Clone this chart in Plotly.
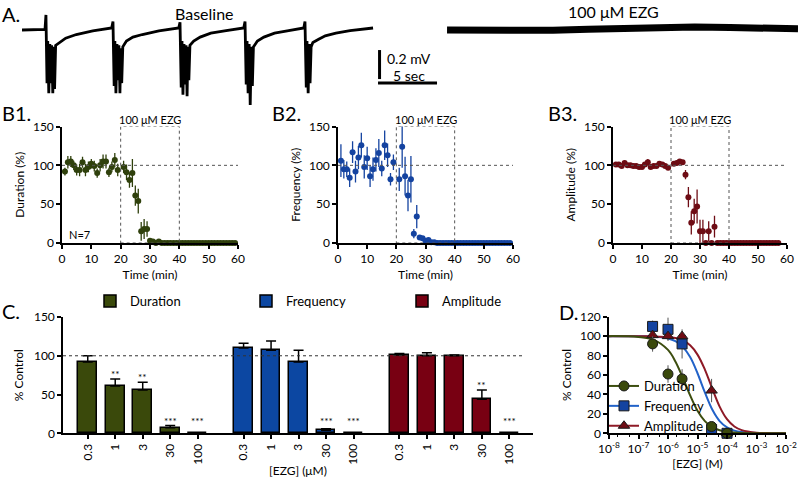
import plotly.graph_objects as go

# ------------------------------------------------------------------ DATA
# Panel A: field-potential traces (time in s, voltage in mV)
baseline_t = [0.00, 0.9, 1.95,
              2.03, 2.08, 2.12, 2.18, 2.27, 2.36, 2.42, 2.51, 2.61, 2.69, 2.76, 2.85, 3.15, 3.7, 4.6, 6.0, 7.6,
              7.71, 7.76, 7.81, 7.87, 7.96, 8.05, 8.12, 8.21, 8.30, 8.37, 8.45, 8.54, 8.85, 9.4, 10.2, 11.6, 13.28,
              13.39, 13.44, 13.49, 13.56, 13.64, 13.73, 13.81, 13.90, 13.99, 14.06, 14.14, 14.23, 14.55, 15.1, 16.0, 17.3, 18.79,
              18.90, 18.95, 19.00, 19.07, 19.16, 19.25, 19.34, 19.43, 19.52, 19.61, 19.95, 20.5, 21.4, 22.6, 23.88,
              23.98, 24.03, 24.09, 24.15, 24.25, 24.34, 24.41, 24.50, 24.65, 25.1, 25.7, 26.6, 27.8, 29.75]
baseline_mv = [-0.014, -0.010, -0.010,
               0.090, -0.18, -0.38, -0.09, -0.45, -0.11, -0.38, -0.12, -0.45, -0.13, -0.42, -0.12, -0.10, -0.07, -0.045, -0.02, 0.0,
               0.045, -0.18, -0.40, -0.09, -0.45, -0.11, -0.36, -0.12, -0.45, -0.14, -0.38, -0.13, -0.09, -0.063, -0.045, -0.02, 0.0,
               0.040, -0.22, -0.41, -0.09, -0.46, -0.11, -0.39, -0.12, -0.47, -0.13, -0.36, -0.12, -0.09, -0.063, -0.036, -0.018, 0.0,
               0.045, -0.20, -0.39, -0.09, -0.45, -0.11, -0.53, -0.13, -0.40, -0.13, -0.09, -0.063, -0.036, -0.018, 0.0,
               0.045, -0.22, -0.41, -0.09, -0.45, -0.11, -0.38, -0.13, -0.10, -0.08, -0.054, -0.036, -0.018, 0.0]
ezg_t = [36.02, 39, 42, 45, 48, 51, 54, 57, 60, 63, 65.76]
ezg_mv = [-0.014, -0.018, -0.020, -0.016, -0.008, 0.0, 0.005, 0.007, 0.004, -0.002, -0.006]

# Panels B1-B3: time courses (min), mean and SEM (% of baseline)
time_min = [1, 2, 3, 4, 5, 6, 7, 8, 9, 10, 11, 12, 13, 14, 15, 16, 17, 18, 19,
            21, 22, 23, 24, 25, 26, 27, 28, 29, 30, 31, 32, 33,
            34, 35, 36, 37, 38, 39, 40, 41, 42, 43, 44, 45, 46, 47, 48, 49, 50,
            51, 52, 53, 54, 55, 56, 57, 58, 59]
duration_tc = [92, 104, 105, 100, 94, 94, 104, 94, 98, 102, 99, 90, 100, 105, 105, 91, 98, 107, 94,
               98, 91, 81, 90, 61, 54, 15, 18, 18, 3, 2, 0, 2,
               0, 0, 0, 0, 0, 0, 0, 0, 0, 0, 0, 0, 0, 0, 0, 0, 0, 0, 0, 0, 0, 0, 0, 0, 0, 0]
duration_tc_sem = [5, 8, 7, 6, 7, 8, 7, 8, 7, 6, 7, 6, 8, 9, 9, 6, 7, 9, 8,
                   8, 10, 10, 18, 13, 16, 12, 13, 10, 2, 1, 0, 1,
                   0, 0, 0, 0, 0, 0, 0, 0, 0, 0, 0, 0, 0, 0, 0, 0, 0, 0, 0, 0, 0, 0, 0, 0, 0, 0]
frequency_tc = [106, 95, 95, 84, 117, 92, 110, 126, 98, 109, 86, 95, 107, 116, 96, 126, 113, 82, 104,
                82, 124, 86, 61, 82, 12, 34, 7, 6, 3, 4, 1, 1,
                0, 0, 0, 0, 0, 0, 0, 0, 0, 0, 0, 0, 0, 0, 0, 0, 0, 0, 0, 0, 0, 0, 0, 0, 0, 0]
frequency_tc_sem = [21, 12, 10, 12, 14, 14, 15, 16, 15, 15, 14, 15, 15, 18, 10, 19, 15, 8, 10,
                    15, 27, 25, 20, 30, 6, 15, 3, 3, 2, 2, 1, 1,
                    0, 0, 0, 0, 0, 0, 0, 0, 0, 0, 0, 0, 0, 0, 0, 0, 0, 0, 0, 0, 0, 0, 0, 0, 0, 0]
amplitude_tc = [101, 101, 99, 103, 100, 100, 99, 99, 98, 98, 101, 104, 98, 99, 99, 102, 101, 99, 97,
                102, 103, 105, 104, 88, 59, 26, 41, 47, 15, 15, 0, 15,
                0, 21, 0, 0, 0, 0, 0, 0, 0, 0, 0, 0, 0, 0, 0, 0, 0, 0, 0, 0, 0, 0, 0, 0]
amplitude_tc_sem = [2, 2, 2, 3, 2, 2, 2, 2, 2, 2, 2, 4, 2, 2, 2, 2, 2, 2, 2,
                    3, 3, 3, 3, 6, 13, 15, 16, 22, 15, 15, 0, 13,
                    0, 14, 0, 0, 0, 0, 0, 0, 0, 0, 0, 0, 0, 0, 0, 0, 0, 0, 0, 0, 0, 0, 0, 0]

# Panel C / D: concentration response
conc_labels = ["0.3", "1", "3", "30", "100"]
conc_molar = [3e-7, 1e-6, 3e-6, 3e-5, 1e-4]
duration_mean = [92, 61, 56, 7, 0]
duration_sem = [8, 9, 10, 3, 0]
frequency_mean = [110, 107, 92, 4, 0]
frequency_sem = [6, 12, 15, 2, 0]
amplitude_mean = [101, 100, 100, 44, 0]
amplitude_sem = [2, 4, 1, 12, 0]
duration_sig = ["", "**", "**", "***", "***"]
frequency_sig = ["", "", "", "***", "***"]
amplitude_sig = ["", "", "", "**", "***"]

# Panel D: fitted concentration-response curves (log10 M, % control)
fit_log_conc = [-8, -7, -6.5, -6, -5.75, -5.5, -5.25, -5, -4.75, -4.5, -4.25, -4, -3.75, -3.5, -3, -2.5, -2]
duration_fit = [100.0, 99.2, 96.4, 85.8, 74.0, 57.4, 39.0, 23.2, 12.5, 6.3, 3.1, 1.5, 0.7, 0.3, 0.1, 0.0, 0.0]
frequency_fit = [100.0, 99.9, 99.5, 97.6, 94.8, 89.0, 78.4, 61.8, 42.0, 24.4, 12.6, 6.1, 2.8, 1.3, 0.26, 0.05, 0.0]
amplitude_fit = [100.0, 100.0, 99.8, 99.1, 98.0, 95.5, 90.5, 81.0, 65.6, 46.0, 27.5, 14.5, 7.0, 3.3, 0.7, 0.13, 0.0]

# ------------------------------------------------------------------ STYLE
FONT = "Lato, 'Open Sans', sans-serif"
W, H = 800, 478
GREEN, BLUE, RED = "#2f400c", "#1443a0", "#6e0c14"
BAR_GREEN, BAR_BLUE, BAR_RED = "#3a490b", "#0c47a2", "#780012"
FIT_GREEN, FIT_BLUE, FIT_RED = "#3d4e10", "#2262c8", "#8e1a26"
GROUP_STEP = 5.67


def fx(p):
    return p / W


def fy(p):
    return 1 - p / H


def gapped(seq):
    out = []
    for v in seq:
        out += [v, None]
    return out[:-1]


fig = go.Figure()

# ---------------- Panel A
fig.add_trace(go.Scatter(x=baseline_t, y=baseline_mv, mode="lines",
                         line=dict(color="black", width=2.8), xaxis="x", yaxis="y",
                         showlegend=False, hoverinfo="skip"))
fig.add_trace(go.Scatter(x=ezg_t, y=ezg_mv, mode="lines",
                         line=dict(color="black", width=7), xaxis="x", yaxis="y",
                         showlegend=False, hoverinfo="skip"))

# ---------------- Panels B
b_sets = [
    (duration_tc, duration_tc_sem, GREEN, "x2", "y2"),
    (frequency_tc, frequency_tc_sem, BLUE, "x3", "y3"),
    (amplitude_tc, amplitude_tc_sem, RED, "x4", "y4"),
]
for vals, err, col, xa, ya in b_sets:
    fig.add_trace(go.Scatter(x=time_min, y=vals, mode="markers",
                             marker=dict(color=col, size=6),
                             error_y=dict(type="data", array=err, color=col, thickness=1.3, width=0),
                             cliponaxis=False, showlegend=False, xaxis=xa, yaxis=ya))

# ---------------- Panel C
c_sets = [
    ("Duration", duration_mean, duration_sem, BAR_GREEN, duration_sig),
    ("Frequency", frequency_mean, frequency_sem, BAR_BLUE, frequency_sig),
    ("Amplitude", amplitude_mean, amplitude_sem, BAR_RED, amplitude_sig),
]
c_tickvals, c_ticktext = [], []
star_annots = []
for g, (name, means, sem, col, sig) in enumerate(c_sets):
    xs = [g * GROUP_STEP + i for i in range(len(conc_labels))]
    c_tickvals += xs
    c_ticktext += conc_labels
    fig.add_trace(go.Bar(x=xs, y=means, width=0.68, name=name,
                         marker=dict(color=col, line=dict(color="black", width=1.5)),
                         error_y=dict(type="data", symmetric=False, array=sem,
                                      arrayminus=[0] * len(sem), color="black",
                                      thickness=1.5, width=5),
                         xaxis="x5", yaxis="y5", legend="legend"))
    for xv, m, s, lab in zip(xs, means, sem, sig):
        if lab:
            star_annots.append(dict(x=xv, y=max(m + s, 10), xref="x5", yref="y5",
                                    text=lab, showarrow=False, yanchor="middle", yshift=5,
                                    font=dict(size=10, color="black")))

# ---------------- Panel D
d_sets = [
    ("Frequency", frequency_mean, frequency_sem, frequency_fit, BLUE, FIT_BLUE, "square", 2),
    ("Amplitude", amplitude_mean, amplitude_sem, amplitude_fit, RED, FIT_RED, "triangle-up", 3),
    ("Duration", duration_mean, duration_sem, duration_fit, BAR_GREEN, FIT_GREEN, "circle", 1),
]
fit_x = [10 ** v for v in fit_log_conc]
for name, means, sem, fit, mcol, lcol, sym, rank in d_sets:
    fig.add_trace(go.Scatter(x=fit_x, y=fit, mode="lines", line=dict(color=lcol, width=2, shape="spline"),
                             xaxis="x6", yaxis="y6", showlegend=False, hoverinfo="skip"))
for name, means, sem, fit, mcol, lcol, sym, rank in d_sets:
    fig.add_trace(go.Scatter(x=gapped(conc_molar), y=gapped(means), mode="lines+markers",
                             name=name, legendrank=rank, legend="legend2",
                             line=dict(color=lcol, width=2),
                             marker=dict(color=mcol, symbol=sym, size=10,
                                         line=dict(color="#1a1a1a", width=1)),
                             error_y=dict(type="data", array=gapped(sem), color="#555555",
                                          thickness=1, width=0),
                             cliponaxis=False, xaxis="x6", yaxis="y6"))

# ---------------- Layout
ax = dict(showline=True, linecolor="black", linewidth=1.5, ticks="outside", ticklen=4,
          tickwidth=1.5, tickcolor="black", showgrid=False, zeroline=False, automargin=False,
          tickfont=dict(size=12, color="black"), title_font=dict(size=12, color="black"))

b_y_dom = [fy(243), fy(126.5)]
b_x_doms = [[fx(62), fx(238)], [fx(338), fx(513)], [fx(613), fx(787)]]
b_titles = ["Duration (%)", "Frequency (%)", "Amplitude (%)"]

layout = dict(
    template="none",
    width=W, height=H, margin=dict(l=0, r=0, t=0, b=0, autoexpand=False),
    paper_bgcolor="white", plot_bgcolor="rgba(0,0,0,0)",
    font=dict(family=FONT, color="black"),
    bargap=0,
    xaxis=dict(domain=[fx(22), fx(798)], range=[0, 65.76], visible=False, anchor="y", automargin=False),
    yaxis=dict(domain=[fy(112), fy(10)], range=[-0.579, 0.124], visible=False, anchor="x", automargin=False),
)
for i in range(3):
    xa, ya = f"xaxis{i + 2}", f"yaxis{i + 2}"
    layout[xa] = dict(ax, domain=b_x_doms[i], range=[0, 60], tickvals=[0, 10, 20, 30, 40, 50, 60],
                      anchor=f"y{i + 2}", title=dict(text="Time (min)", standoff=5))
    layout[ya] = dict(ax, domain=b_y_dom, range=[0, 150], tickvals=[0, 50, 100, 150],
                      anchor=f"x{i + 2}", title=dict(text=b_titles[i], standoff=6))

layout["xaxis5"] = dict(ax, domain=[fx(63), fx(533)], range=[-0.9, 16.2],
                        tickvals=c_tickvals, ticktext=c_ticktext, tickangle=-90,
                        anchor="y5", title=dict(text="[EZG] (μM)", standoff=13))
layout["yaxis5"] = dict(ax, domain=[fy(433.3), fy(317)], range=[0, 150], tickvals=[0, 50, 100, 150],
                        anchor="x5", title=dict(text="% Control", standoff=8))
layout["xaxis6"] = dict(ax, domain=[fx(609), fx(786)], type="log", range=[-8, -2],
                        tickvals=[1e-8, 1e-7, 1e-6, 1e-5, 1e-4, 1e-3, 1e-2],
                        ticktext=["10<sup>-8</sup>", "10<sup>-7</sup>", "10<sup>-6</sup>", "10<sup>-5</sup>",
                                  "10<sup>-4</sup>", "10<sup>-3</sup>", "10<sup>-2</sup>"],
                        minor=dict(ticks="outside", ticklen=2, tickwidth=1, tickcolor="black"),
                        anchor="y6", title=dict(text="[EZG] (M)", standoff=4))
layout["yaxis6"] = dict(ax, domain=[fy(433.3), fy(316.7)], range=[0, 120], dtick=20,
                        anchor="x6", title=dict(text="% Control", standoff=6))

layout["legend"] = dict(orientation="h", x=fx(90), y=fy(301), xanchor="left", yanchor="middle",
                        entrywidth=111, font=dict(size=13, color="black"), bgcolor="rgba(0,0,0,0)")
layout["legend2"] = dict(x=fx(604), y=fy(441), xanchor="left", yanchor="bottom",
                         font=dict(size=13, color="black"), bgcolor="rgba(0,0,0,0)",
                         itemwidth=30, tracegroupgap=0)

shapes = []
dot = dict(color="#555555", width=1, dash="dot")
for i in range(3):
    xr, yr = f"x{i + 2}", f"y{i + 2}"
    shapes.append(dict(type="rect", xref=xr, yref=yr, x0=20, x1=40, y0=0, y1=150, line=dot))
    shapes.append(dict(type="line", xref=xr, yref=yr, x0=0, x1=60, y0=100, y1=100, line=dot))
shapes.append(dict(type="line", xref="x5 domain", yref="y5", x0=0, x1=0.982, y0=100, y1=100,
                   line=dict(color="#333333", width=1, dash="dot")))
# scale bars (0.2 mV, 5 s)
shapes.append(dict(type="line", xref="x", yref="y", x0=30.3, x1=30.3, y0=-0.152, y1=-0.352,
                   line=dict(color="black", width=3)))
shapes.append(dict(type="line", xref="x", yref="y", x0=30.17, x1=35.17, y0=-0.379, y1=-0.379,
                   line=dict(color="black", width=3)))
layout["shapes"] = shapes

annots = [
    dict(x=fx(0), y=fy(14), text="A.", font=dict(size=20)),
    dict(x=fx(0), y=fy(113), text="B1.", font=dict(size=20)),
    dict(x=fx(270), y=fy(113), text="B2.", font=dict(size=20)),
    dict(x=fx(546), y=fy(113), text="B3.", font=dict(size=20)),
    dict(x=fx(0), y=fy(311), text="C.", font=dict(size=20)),
    dict(x=fx(557), y=fy(312), text="D.", font=dict(size=20)),
    dict(x=fx(205), y=fy(13), text="Baseline", xanchor="center", font=dict(size=16)),
    dict(x=fx(613), y=fy(12), text="100 μM EZG", xanchor="center", font=dict(size=16)),
    dict(x=fx(385), y=fy(58), text="0.2 mV", font=dict(size=14)),
    dict(x=fx(391), y=fy(76), text="5 sec", font=dict(size=14)),
]
for a in annots:
    a.update(xref="paper", yref="paper", showarrow=False, yanchor="middle")
    a.setdefault("xanchor", "left")
    a["font"]["color"] = "black"
for i in range(3):
    annots.append(dict(x=30, y=150, xref=f"x{i + 2}", yref=f"y{i + 2}", text="100 μM EZG",
                       showarrow=False, yanchor="bottom", yshift=-1, font=dict(size=11, color="black")))
annots.append(dict(x=1.8, y=11, xref="x2", yref="y2", text="N=7", showarrow=False,
                   xanchor="left", yanchor="middle", font=dict(size=11, color="black")))
annots += star_annots
layout["annotations"] = annots

fig.update_layout(**layout)
fig.write_html("out.html", config={"displayModeBar": False},
               post_script="document.body.style.margin='0px';document.body.style.overflow='hidden';")
